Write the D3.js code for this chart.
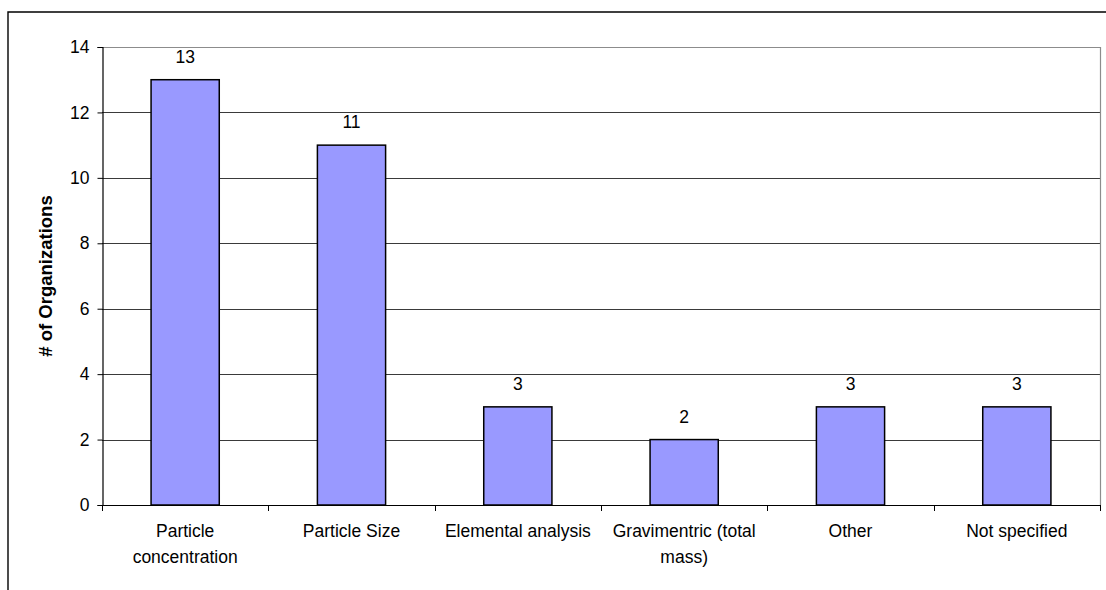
<!DOCTYPE html>
<html>
<head>
<meta charset="utf-8">
<script src="https://cdn.jsdelivr.net/npm/d3@7"></script>
<style>
  html, body { margin: 0; padding: 0; background: #fff; }
  svg { display: block; }
  text { font-family: Arial, "Liberation Sans", sans-serif; fill: #000; }
</style>
</head>
<body>
<svg id="chart" width="1106" height="590"></svg>
<script>
// Sampling methods reported by organizations
const categories = ["Particle concentration", "Particle Size", "Elemental analysis",
                    "Gravimentric (total mass)", "Other", "Not specified"];
const categoryLines = [["Particle", "concentration"], ["Particle Size"], ["Elemental analysis"],
                       ["Gravimentric (total", "mass)"], ["Other"], ["Not specified"]];
const counts = [13, 11, 3, 2, 3, 3];
const yTicks = [0, 2, 4, 6, 8, 10, 12, 14];
const yTitle = "# of Organizations";

const svg = d3.select("#chart");
const plot = { left: 102, right: 1100, top: 47, bottom: 505 };

const x = d3.scaleBand()
  .domain(categories)
  .range([plot.left, plot.right])
  .paddingInner(0.59)
  .paddingOuter(0.295);

const y = d3.scaleLinear()
  .domain([0, 14])
  .range([plot.bottom, plot.top]);

// Outer chart frame (top and left edges visible)
svg.append("path")
  .attr("d", `M8,590 V12 H1106`)
  .attr("fill", "none")
  .attr("stroke", "#000")
  .attr("stroke-width", 1.4);

// Horizontal gridlines
svg.append("g")
  .selectAll("line")
  .data(yTicks.filter(t => t > 0 && t < 14))
  .join("line")
  .attr("x1", plot.left).attr("x2", plot.right)
  .attr("y1", d => Math.round(y(d)) + 0.5).attr("y2", d => Math.round(y(d)) + 0.5)
  .attr("stroke", "#3a3a3a")
  .attr("stroke-width", 1);

// Plot area border (top and right)
svg.append("path")
  .attr("d", `M${plot.left},${Math.round(plot.top) + 0.5} H${plot.right + 0.5} V${plot.bottom}`)
  .attr("fill", "none")
  .attr("stroke", "#8c8c8c")
  .attr("stroke-width", 1.2);

// Bars
svg.append("g")
  .selectAll("rect")
  .data(counts)
  .join("rect")
  .attr("x", (d, i) => x(categories[i]))
  .attr("y", d => y(d))
  .attr("width", x.bandwidth())
  .attr("height", d => y(0) - y(d))
  .attr("fill", "#9999ff")
  .attr("stroke", "#000")
  .attr("stroke-width", 1.5);

// Value labels above bars
svg.append("g")
  .selectAll("text")
  .data(counts)
  .join("text")
  .attr("x", (d, i) => x(categories[i]) + x.bandwidth() / 2)
  .attr("y", d => y(d) - 17)
  .attr("text-anchor", "middle")
  .attr("font-size", 17.5)
  .text(d => d);

// Y axis
const yAxis = d3.axisLeft(y).tickValues(yTicks).tickSize(5).tickPadding(8);
const yg = svg.append("g")
  .attr("transform", `translate(${plot.left + 0.5},0)`)
  .call(yAxis);
yg.select(".domain").attr("stroke", "#000").attr("stroke-width", 1.2);
yg.selectAll(".tick line").attr("stroke", "#000");
yg.selectAll(".tick text")
  .attr("font-size", 17.5)
  .attr("font-family", "Arial, 'Liberation Sans', sans-serif")
  .attr("fill", "#000");

// X axis line and category boundary ticks
const step = x.step();
const boundaries = d3.range(categories.length + 1).map(i => plot.left + i * step);
svg.append("line")
  .attr("x1", plot.left).attr("x2", plot.right + 1)
  .attr("y1", plot.bottom + 0.5).attr("y2", plot.bottom + 0.5)
  .attr("stroke", "#000").attr("stroke-width", 1.2);
svg.append("g")
  .selectAll("line")
  .data(boundaries)
  .join("line")
  .attr("x1", d => Math.round(d) + 0.5).attr("x2", d => Math.round(d) + 0.5)
  .attr("y1", plot.bottom).attr("y2", plot.bottom + 6)
  .attr("stroke", "#000");

// Category labels
const xl = svg.append("g")
  .selectAll("text")
  .data(categories)
  .join("text")
  .attr("text-anchor", "middle")
  .attr("font-size", 17.5)
  .attr("x", d => x(d) + x.bandwidth() / 2)
  .attr("y", 537);
xl.selectAll("tspan")
  .data((d, i) => categoryLines[i])
  .join("tspan")
  .attr("x", function () { return d3.select(this.parentNode).attr("x"); })
  .attr("dy", (d, i) => i === 0 ? 0 : 26)
  .text(d => d);

// Y axis title
svg.append("text")
  .attr("transform", `translate(52,${(plot.top + plot.bottom) / 2}) rotate(-90)`)
  .attr("text-anchor", "middle")
  .attr("font-size", 18.5)
  .attr("font-weight", "bold")
  .text(yTitle);
</script>
</body>
</html>
